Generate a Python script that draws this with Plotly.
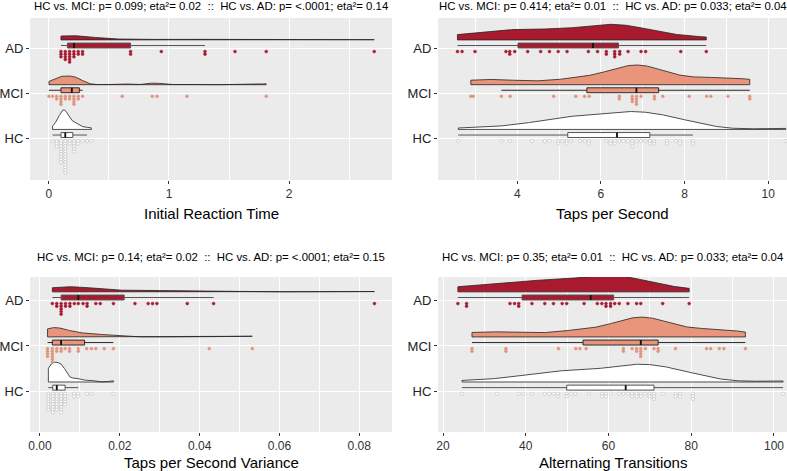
import numpy as np
import plotly.graph_objects as go

# --- data ---
groups = ['HC', 'MCI', 'AD']

rt_hc = [0.03, 0.064, 0.064, 0.064,
         0.10, 0.10, 0.10, 0.10, 0.10, 0.10, 0.10, 0.10, 0.10,
         0.136, 0.136, 0.136, 0.136, 0.136, 0.136, 0.136, 0.136, 0.136, 0.136, 0.136, 0.136, 0.136,
         0.172, 0.172, 0.208, 0.208, 0.208, 0.208, 0.208, 0.244, 0.244, 0.28, 0.317, 0.353]
rt_mci = [0.0, 0.03, 0.064, 0.064, 0.10, 0.10, 0.10, 0.10, 0.136, 0.136, 0.172, 0.172,
          0.208, 0.208, 0.208, 0.208, 0.244, 0.244, 0.28, 0.61, 0.86, 0.90, 1.15, 1.81]
rt_ad = [0.10, 0.10, 0.10, 0.136, 0.136, 0.136, 0.136, 0.172, 0.172, 0.172, 0.172, 0.172,
         0.208, 0.208, 0.208, 0.244, 0.244, 0.28, 0.28, 0.68, 0.68, 0.936, 1.30, 1.30, 1.55, 1.81, 2.71]

tps_hc = [2.59, 3.62, 3.83, 4.35, 4.66, 4.77, 4.98, 4.98, 5.08, 5.18, 5.18, 5.29, 5.50, 5.61,
          5.71, 5.71, 6.13, 6.23, 6.23, 6.33, 6.33, 6.44, 6.54, 6.65, 6.75, 6.75, 6.75, 6.85,
          6.96, 7.06, 7.17, 7.17, 7.27, 7.27, 7.58, 7.58, 7.79, 7.89, 7.89, 8.20, 8.20, 10.42]
tps_mci = [2.89, 2.95, 3.62, 3.83, 4.87, 5.40, 5.61, 5.72, 6.44, 6.44, 6.75, 6.75, 6.75, 6.85,
           6.85, 6.85, 6.85, 6.96, 7.28, 7.28, 7.48, 8.11, 8.53, 8.63, 9.04, 9.56, 9.56]
tps_ad = [2.57, 2.68, 2.99, 3.73, 3.82, 3.82, 3.94, 4.25, 4.56, 4.77, 4.98, 5.19, 5.70, 5.92,
          6.13, 6.13, 6.33, 6.33, 6.33, 6.45, 6.45, 6.65, 6.96, 7.07, 7.91, 8.52]

tpsv_hc = [0.0021, 0.0021, 0.0021, 0.0021, 0.0021, 0.0021, 0.0021,
           0.0032, 0.0032, 0.0032, 0.0032, 0.0032, 0.0032, 0.0032, 0.0032,
           0.0042, 0.0042, 0.0042, 0.0042, 0.0042, 0.0042, 0.0042,
           0.0053, 0.0053, 0.0053, 0.0053, 0.0053, 0.0053, 0.0053, 0.0053,
           0.0063, 0.0063, 0.0063, 0.0063, 0.0063, 0.0085, 0.0085, 0.0096, 0.0096,
           0.0118, 0.0129, 0.0184]
tpsv_mci = [0.0019, 0.0019, 0.0019, 0.0019, 0.0031, 0.0031, 0.0031, 0.0031, 0.0031, 0.0031,
            0.0042, 0.0042, 0.0053, 0.0053, 0.0063, 0.0074, 0.0074, 0.0096, 0.0096,
            0.0117, 0.0129, 0.0140, 0.0161, 0.0184, 0.0424, 0.0532]
tpsv_ad = [0.0031, 0.0042, 0.0042, 0.0053, 0.0053, 0.0053, 0.0053, 0.0053, 0.0064, 0.0064,
           0.0075, 0.0075, 0.0086, 0.0096, 0.0108, 0.0118, 0.0118, 0.0140, 0.0151, 0.0184,
           0.0238, 0.0271, 0.0282, 0.0293, 0.0369, 0.0435, 0.0838]

alt_hc = [24.6, 33.1, 38.3, 39.4, 41.5, 44.6, 45.7, 46.7, 47.8, 47.8, 49.9, 49.9, 51.0, 52.0,
          55.2, 58.4, 58.4, 59.4, 59.4, 60.5, 62.6, 63.6, 64.7, 65.7, 65.7, 66.8, 66.8, 67.8,
          67.8, 68.9, 69.9, 69.9, 71.0, 71.0, 71.0, 73.1, 76.2, 76.2, 77.3, 77.3, 80.4, 80.4,
          80.4, 102.2]
alt_mci = [27.0, 27.0, 35.2, 35.2, 47.9, 52.1, 53.1, 54.6, 63.6, 63.6, 65.7, 66.8, 66.8, 67.8,
           67.8, 67.8, 67.8, 68.9, 71.0, 72.0, 72.0, 76.2, 83.7, 84.7, 86.8, 87.9, 93.1]
alt_ad = [23.6, 25.7, 25.7, 36.2, 37.3, 38.3, 38.3, 41.5, 44.6, 46.7, 48.8, 49.9, 54.1, 57.3,
          58.4, 59.4, 59.4, 60.5, 60.5, 61.5, 62.6, 64.7, 66.8, 67.8, 73.1, 79.5]

titles = ['HC vs. MCI: p= 0.099; eta²= 0.02 \u00a0::\u00a0 HC vs. AD: p= <.0001; eta²= 0.14',
          'HC vs. MCI: p= 0.414; eta²= 0.01 \u00a0::\u00a0 HC vs. AD: p= 0.033; eta²= 0.04',
          'HC vs. MCI: p= 0.14; eta²= 0.02 \u00a0::\u00a0 HC vs. AD: p= <.0001; eta²= 0.15',
          'HC vs. MCI: p= 0.35; eta²= 0.01 \u00a0::\u00a0 HC vs. AD: p= 0.033; eta²= 0.04']
xlabels = ['Initial Reaction Time', 'Taps per Second', 'Taps per Second Variance', 'Alternating Transitions']

panels = [
    {'HC': rt_hc, 'MCI': rt_mci, 'AD': rt_ad},
    {'HC': tps_hc, 'MCI': tps_mci, 'AD': tps_ad},
    {'HC': tpsv_hc, 'MCI': tpsv_mci, 'AD': tpsv_ad},
    {'HC': alt_hc, 'MCI': alt_mci, 'AD': alt_ad},
]

pos = {'HC': 1, 'MCI': 2, 'AD': 3}
fill = {'HC': '#FFFFFF', 'MCI': '#E8957B', 'AD': '#AA1A2F'}
dotcol = {'HC': '#FFFFFF', 'MCI': '#E0937C', 'AD': '#A8182E'}
dotline = {'HC': '#B8B8B8', 'MCI': '#E0937C', 'AD': '#A8182E'}
whisk = {'HC': '#555555', 'MCI': '#2A2A2A', 'AD': '#555555'}


def kde(v):
    v = np.asarray(v, float)
    n = len(v)
    q75, q25 = np.percentile(v, [75, 25])
    bw = 0.9 * min(v.std(ddof=1), (q75 - q25) / 1.34) * n ** -0.2
    grid = np.linspace(v.min(), v.max(), 512)
    d = np.exp(-0.5 * ((grid[:, None] - v[None, :]) / bw) ** 2).sum(1) / (n * bw * np.sqrt(2 * np.pi))
    return grid, d


fig = go.Figure()

for i, data in enumerate(panels):
    xa = 'x' if i == 0 else 'x%d' % (i + 1)
    ya = 'y' if i == 0 else 'y%d' % (i + 1)
    dens = {g: kde(data[g]) for g in groups}
    dmax = max(d.max() for _, d in dens.values())
    allv = np.concatenate([data[g] for g in groups])
    binw = (allv.max() - allv.min()) / 75

    for g in groups:
        v = np.asarray(data[g], float)
        p = pos[g]
        # half violin
        grid, d = dens[g]
        base = p + 0.2
        top = base + 0.44 * d / dmax
        fig.add_trace(go.Scatter(
            x=np.concatenate([grid, grid[::-1], grid[:1]]),
            y=np.concatenate([top, np.full(len(grid), base), top[:1]]),
            fill='toself', fillcolor=fill[g], mode='lines',
            line=dict(color='#222222', width=0.8),
            xaxis=xa, yaxis=ya, showlegend=False, hoverinfo='skip'))

        # box (ggplot style stats)
        q1, med, q3 = np.percentile(v, [25, 50, 75])
        iqr = q3 - q1
        lo = v[v >= q1 - 1.5 * iqr].min()
        hi = v[v <= q3 + 1.5 * iqr].max()
        fig.add_trace(go.Box(
            y=[p + 0.075], q1=[q1], median=[med], q3=[q3], lowerfence=[lo], upperfence=[hi],
            orientation='h', width=0.11, whiskerwidth=0, boxpoints=False,
            fillcolor=fill[g], line=dict(color=whisk[g], width=1),
            xaxis=xa, yaxis=ya, showlegend=False, hoverinfo='skip'))
        # thicker median bar
        fig.add_trace(go.Scatter(
            x=[med, med], y=[p + 0.02, p + 0.13], mode='lines',
            line=dict(color='#111111', width=1.8),
            xaxis=xa, yaxis=ya, showlegend=False, hoverinfo='skip'))

        # stacked dots
        idx = np.round((v - allv.min()) / binw).astype(int)
        dx, dy = [], []
        for b in np.unique(idx):
            members = v[idx == b]
            for k in range(len(members)):
                dx.append(members.mean())
                dy.append(p - 0.06 - 0.059 * k)
        fig.add_trace(go.Scatter(
            x=dx, y=dy, mode='markers',
            marker=dict(size=2.8 if g != 'HC' else 3.2, color=dotcol[g],
                        line=dict(color=dotline[g], width=0.6)),
            xaxis=xa, yaxis=ya, showlegend=False, hoverinfo='skip'))

W, H = 787, 471
ml, mr, mt, mb = 30, 0, 18, 39
pw, ph = W - ml - mr, H - mt - mb


def px_x(px):
    return (px - ml) / pw


def px_y(py):
    return (H - mb - py) / ph


xdom = [[0, px_x(392)], [px_x(438), 1], [0, px_x(392)], [px_x(438), 1]]
ydom = [[px_y(180), 1], [px_y(180), 1], [0, px_y(277)], [0, px_y(277)]]
xranges = [[-0.158, 2.858], [2.105, 10.45], [-0.0025, 0.0882], [18.79, 103.15]]
yranges = [[0.07, 3.69], [0.07, 3.69], [0.09, 3.53], [0.09, 3.53]]
dticks = [1, 2, 0.02, 20]
minors = [0.5, 1, 0.01, 10]

tickfont = dict(family='Liberation Sans, Arial, sans-serif', size=12, color='#333333')
layout = dict(
    width=W, height=H, margin=dict(l=ml, r=mr, t=mt, b=mb),
    paper_bgcolor='white', plot_bgcolor='#EBEBEB', showlegend=False,
    font=dict(family='Liberation Sans, Arial, sans-serif', color='#000000'),
    annotations=[],
)
for i in range(4):
    sx = '' if i == 0 else str(i + 1)
    layout['xaxis' + sx] = dict(
        domain=xdom[i], anchor='y' + sx, range=xranges[i], type='linear',
        tick0=0, dtick=dticks[i], tickformat='.2f' if i == 2 else None,
        ticks='outside', ticklen=3, tickcolor='#333333', tickwidth=1,
        showgrid=True, gridcolor='white', gridwidth=1.1, zeroline=False, showline=False,
        minor=dict(tick0=0, dtick=minors[i], showgrid=True, gridcolor='white', gridwidth=0.5),
        tickfont=tickfont, automargin=False)
    layout['yaxis' + sx] = dict(
        domain=ydom[i], anchor='x' + sx, range=yranges[i], type='linear',
        tickvals=[1, 2, 3], ticktext=['HC', 'MCI', 'AD'],
        ticks='outside', ticklen=3, tickcolor='#333333', tickwidth=1,
        showgrid=True, gridcolor='white', gridwidth=1.1, zeroline=False, showline=False,
        tickfont=dict(family='Liberation Sans, Arial, sans-serif', size=13, color='#222222'),
        automargin=False)
    xc = (xdom[i][0] + xdom[i][1]) / 2
    ty = px_y(6) if i < 2 else px_y(257)
    ly = px_y(213) if i < 2 else px_y(463)
    layout['annotations'].append(dict(
        text=titles[i], x=xc, y=ty, xref='paper', yref='paper', showarrow=False,
        xanchor='center', yanchor='middle', font=dict(size=11.4, color='#000000')))
    layout['annotations'].append(dict(
        text=xlabels[i], x=xc, y=ly, xref='paper', yref='paper', showarrow=False,
        xanchor='center', yanchor='middle', font=dict(size=15, color='#000000')))

fig.update_layout(**layout)
fig.write_html("out.html", config={'displayModeBar': False},
               post_script="document.body.style.margin='0px';")
